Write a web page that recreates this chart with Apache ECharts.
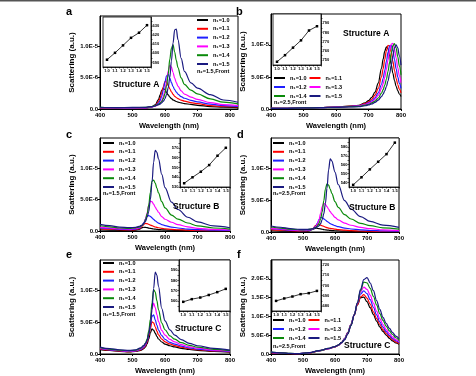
<!DOCTYPE html>
<html>
<head>
<meta charset="utf-8">
<title>Scattering spectra</title>
<script src="https://cdn.jsdelivr.net/npm/echarts@6/dist/echarts.min.js"></script>
<style>
html, body { margin: 0; padding: 0; background: #fff; }
#main { width: 476px; height: 376px; }
</style>
</head>
<body>
<div id="main"></div>
<script type="text/javascript">
// ---- data (scattering in units of 1e-6 a.u.) ----
var names = ['n\u2081=1.0', 'n\u2081=1.1', 'n\u2081=1.2', 'n\u2081=1.3', 'n\u2081=1.4', 'n\u2081=1.5'];

// a: structure A, n2=1.5
var aX = [400, 450, 500, 540, 560, 570, 580, 585, 590, 595, 600, 605, 610, 615, 620, 625, 630, 635, 640, 650, 660, 680, 700, 740, 780, 825];
var aCurves = [
  [0.17, 0.13, 0.12, 0.16, 0.36, 0.66, 1.49, 2.24, 2.97, 3.3, 3.07, 2.64, 2.24, 1.91, 1.65, 1.45, 1.32, 1.19, 1.1, 0.97, 0.87, 0.73, 0.59, 0.38, 0.29, 0.23],
  [0.19, 0.15, 0.13, 0.18, 0.33, 0.55, 1.14, 1.72, 2.6, 3.56, 4.35, 4.3, 3.74, 3.2, 2.73, 2.33, 2.02, 1.83, 1.65, 1.41, 1.25, 1.03, 0.84, 0.54, 0.4, 0.32],
  [0.2, 0.16, 0.15, 0.19, 0.34, 0.5, 0.9, 1.34, 2.02, 3.02, 4.31, 5.26, 5.55, 4.93, 4.2, 3.58, 3.08, 2.69, 2.38, 1.96, 1.71, 1.37, 1.12, 0.76, 0.53, 0.41],
  [0.22, 0.18, 0.17, 0.2, 0.32, 0.46, 0.7, 0.91, 1.33, 1.96, 2.94, 4.41, 6.02, 6.95, 6.65, 5.81, 4.9, 4.2, 3.64, 2.87, 2.38, 1.89, 1.54, 1.02, 0.7, 0.53],
  [0.25, 0.2, 0.21, 0.25, 0.39, 0.52, 0.72, 0.93, 1.18, 1.65, 2.47, 3.71, 5.56, 7.93, 9.68, 10.2, 9.06, 7.73, 6.59, 4.94, 3.91, 2.99, 2.42, 1.6, 1.08, 0.82],
  [0.28, 0.22, 0.26, 0.26, 0.39, 0.49, 0.68, 0.78, 0.98, 1.24, 1.63, 2.28, 3.38, 5.07, 7.67, 10.53, 12.6, 12.7, 11.05, 8.06, 5.98, 4.16, 3.32, 2.28, 1.43, 1.08]
];

// b: structure A, n2=2.5
var bX = [400, 450, 500, 550, 600, 640, 670, 690, 700, 710, 720, 730, 740, 745, 750, 755, 760, 765, 770, 775, 780, 785, 790, 795, 800];
var bCurves = [
  [0.09, 0.12, 0.17, 0.23, 0.31, 0.44, 0.58, 0.97, 1.3, 1.8, 2.64, 4.04, 6.34, 7.76, 9.02, 9.68, 9.39, 8.31, 6.9, 5.56, 4.43, 3.54, 2.86, 2.34, 1.94],
  [0.09, 0.12, 0.17, 0.23, 0.3, 0.41, 0.54, 0.85, 1.12, 1.52, 2.15, 3.21, 5.0, 6.26, 7.71, 9.08, 9.92, 9.82, 8.83, 7.41, 5.99, 4.78, 3.82, 3.08, 2.51],
  [0.09, 0.12, 0.17, 0.22, 0.29, 0.39, 0.48, 0.74, 0.95, 1.26, 1.74, 2.51, 3.82, 4.78, 5.99, 7.41, 8.83, 9.82, 9.92, 9.08, 7.71, 6.26, 5.0, 3.99, 3.21],
  [0.09, 0.12, 0.17, 0.22, 0.28, 0.38, 0.45, 0.68, 0.85, 1.12, 1.51, 2.14, 3.17, 3.93, 4.92, 6.17, 7.63, 9.09, 10.11, 10.22, 9.35, 7.94, 6.45, 5.15, 4.11],
  [0.09, 0.12, 0.16, 0.21, 0.27, 0.35, 0.4, 0.59, 0.73, 0.94, 1.24, 1.71, 2.46, 3.01, 3.72, 4.66, 5.84, 7.26, 8.74, 9.87, 10.18, 9.5, 8.16, 6.67, 5.33],
  [0.09, 0.11, 0.16, 0.2, 0.26, 0.32, 0.35, 0.51, 0.63, 0.79, 1.03, 1.38, 1.93, 2.32, 2.83, 3.5, 4.36, 5.48, 6.83, 8.29, 9.51, 10.0, 9.51, 8.29, 6.83]
];

// c: structure B, n2=1.5
var cX = [400, 430, 460, 490, 510, 520, 530, 535, 540, 545, 550, 555, 560, 565, 570, 575, 580, 590, 600, 620, 640, 670, 700, 750, 800];
var cCurves = [
  [0.2, 0.15, 0.11, 0.09, 0.14, 0.26, 0.53, 0.6, 0.58, 0.53, 0.47, 0.42, 0.37, 0.32, 0.29, 0.26, 0.23, 0.2, 0.17, 0.12, 0.1, 0.07, 0.05, 0.03, 0.02],
  [0.36, 0.28, 0.2, 0.16, 0.21, 0.34, 0.76, 1.05, 1.21, 1.16, 1.07, 0.95, 0.84, 0.74, 0.64, 0.58, 0.52, 0.43, 0.36, 0.26, 0.2, 0.13, 0.09, 0.06, 0.04],
  [0.51, 0.4, 0.28, 0.23, 0.3, 0.43, 0.88, 1.32, 1.91, 2.38, 2.45, 2.33, 2.08, 1.85, 1.63, 1.43, 1.25, 1.03, 0.85, 0.63, 0.48, 0.31, 0.21, 0.13, 0.09],
  [0.62, 0.48, 0.35, 0.3, 0.38, 0.51, 0.88, 1.2, 1.91, 2.88, 4.08, 4.75, 4.66, 4.27, 3.79, 3.36, 2.98, 2.3, 1.87, 1.39, 1.01, 0.67, 0.43, 0.25, 0.17],
  [0.84, 0.66, 0.48, 0.42, 0.5, 0.61, 0.9, 1.21, 1.77, 2.71, 4.18, 6.15, 7.95, 8.1, 7.63, 6.81, 6.07, 4.67, 3.69, 2.54, 1.89, 1.27, 0.82, 0.48, 0.31],
  [1.06, 0.84, 0.62, 0.53, 0.59, 0.73, 0.95, 1.22, 1.54, 2.19, 3.1, 5.03, 7.74, 10.97, 12.85, 12.51, 11.48, 9.03, 6.9, 4.58, 3.42, 2.19, 1.44, 0.8, 0.52]
];

// d: structure B, n2=2.5
var dX = [400, 430, 460, 490, 510, 520, 530, 540, 545, 550, 555, 560, 565, 570, 575, 580, 585, 590, 600, 610, 630, 650, 680, 710, 750, 800];
var dCurves = [
  [0.2, 0.15, 0.11, 0.09, 0.11, 0.19, 0.41, 0.6, 0.58, 0.53, 0.48, 0.43, 0.38, 0.34, 0.31, 0.28, 0.26, 0.23, 0.2, 0.17, 0.13, 0.11, 0.08, 0.06, 0.04, 0.03],
  [0.36, 0.28, 0.2, 0.15, 0.17, 0.25, 0.51, 1.04, 1.19, 1.17, 1.08, 0.98, 0.88, 0.78, 0.68, 0.62, 0.56, 0.52, 0.44, 0.38, 0.29, 0.22, 0.16, 0.12, 0.08, 0.06],
  [0.51, 0.39, 0.28, 0.21, 0.23, 0.28, 0.44, 0.93, 1.4, 1.96, 2.28, 2.24, 2.07, 1.89, 1.68, 1.5, 1.31, 1.2, 0.99, 0.84, 0.62, 0.47, 0.33, 0.24, 0.17, 0.12],
  [0.62, 0.48, 0.35, 0.27, 0.29, 0.35, 0.47, 0.85, 1.25, 1.89, 2.93, 4.0, 4.5, 4.37, 4.0, 3.6, 3.2, 2.84, 2.3, 1.91, 1.4, 1.06, 0.72, 0.52, 0.35, 0.24],
  [0.79, 0.61, 0.45, 0.34, 0.36, 0.4, 0.51, 0.73, 0.95, 1.37, 2.05, 3.19, 4.94, 6.76, 7.6, 7.37, 6.76, 6.08, 4.79, 3.88, 2.74, 2.05, 1.37, 0.99, 0.65, 0.44],
  [0.95, 0.75, 0.54, 0.4, 0.41, 0.44, 0.51, 0.69, 0.82, 0.98, 1.31, 1.96, 2.88, 4.49, 6.9, 9.78, 11.5, 11.21, 9.43, 7.48, 4.95, 3.62, 2.42, 1.67, 1.09, 0.72]
];

// e: structure C, n2=1.5
var eX = [400, 430, 460, 490, 510, 525, 535, 540, 545, 550, 555, 560, 565, 570, 575, 580, 590, 600, 615, 630, 650, 675, 700, 750, 800];
var eCurves = [
  [0.7, 0.55, 0.41, 0.33, 0.39, 0.56, 0.85, 1.12, 1.61, 2.37, 3.33, 3.95, 3.75, 3.28, 2.77, 2.36, 1.89, 1.57, 1.3, 1.11, 0.9, 0.71, 0.58, 0.4, 0.29],
  [0.77, 0.61, 0.46, 0.37, 0.44, 0.65, 0.97, 1.32, 1.87, 2.81, 4.03, 5.05, 4.89, 4.27, 3.6, 3.02, 2.35, 1.92, 1.58, 1.33, 1.07, 0.83, 0.67, 0.47, 0.33],
  [0.84, 0.66, 0.51, 0.41, 0.48, 0.72, 1.09, 1.44, 2.07, 3.12, 4.53, 5.95, 6.15, 5.37, 4.54, 3.77, 2.88, 2.31, 1.83, 1.57, 1.24, 0.96, 0.77, 0.53, 0.37],
  [0.91, 0.72, 0.55, 0.45, 0.54, 0.8, 1.2, 1.55, 2.16, 3.33, 4.98, 7.04, 8.0, 7.31, 6.21, 5.1, 3.72, 2.97, 2.29, 1.91, 1.47, 1.13, 0.92, 0.62, 0.45],
  [0.98, 0.77, 0.6, 0.5, 0.6, 0.88, 1.33, 1.67, 2.37, 3.59, 5.46, 8.06, 10.15, 9.75, 8.39, 6.96, 4.88, 3.82, 2.85, 2.33, 1.79, 1.36, 1.08, 0.73, 0.52],
  [1.09, 0.85, 0.67, 0.56, 0.66, 0.97, 1.36, 1.67, 2.1, 3.08, 4.55, 6.96, 10.31, 12.9, 12.42, 10.66, 7.16, 5.21, 3.79, 2.96, 2.26, 1.68, 1.3, 0.88, 0.62]
];

// f: structure C, n2=2.5
var fX = [400, 430, 460, 490, 520, 550, 580, 600, 610, 620, 630, 640, 650, 660, 670, 680, 690, 700, 710, 720, 730, 740, 750, 760, 770, 780, 790, 800];
var fCurves = [
  [0.32, 0.22, 0.11, 0.1, 0.3, 0.82, 1.4, 1.9, 2.3, 2.95, 4.1, 5.78, 7.98, 10.49, 13.07, 15.0, 15.1, 13.91, 12.31, 10.49, 8.74, 7.22, 6.0, 5.02, 4.18, 3.5, 2.96, 2.58],
  [0.38, 0.24, 0.12, 0.1, 0.31, 0.84, 1.42, 1.92, 2.32, 2.95, 4.03, 5.53, 7.74, 10.19, 13.11, 15.17, 15.8, 14.85, 13.27, 11.22, 9.48, 7.9, 6.48, 5.45, 4.58, 3.79, 3.24, 2.77],
  [0.42, 0.26, 0.13, 0.11, 0.32, 0.85, 1.43, 1.93, 2.33, 2.95, 4.03, 5.54, 7.81, 10.33, 13.44, 15.96, 16.8, 16.04, 14.45, 12.43, 10.42, 8.57, 7.14, 5.96, 4.96, 4.12, 3.53, 3.02],
  [0.45, 0.27, 0.13, 0.11, 0.33, 0.86, 1.45, 1.95, 2.35, 2.95, 3.92, 5.52, 7.83, 10.41, 13.53, 16.55, 17.8, 17.18, 15.66, 13.53, 11.39, 9.43, 7.83, 6.5, 5.43, 4.54, 3.83, 3.29],
  [0.48, 0.28, 0.14, 0.12, 0.34, 0.88, 1.48, 1.98, 2.38, 3.0, 3.84, 5.38, 7.68, 10.37, 13.63, 16.9, 19.1, 18.9, 17.47, 15.36, 13.06, 10.75, 8.93, 7.39, 6.14, 5.18, 4.32, 3.65],
  [0.5, 0.3, 0.15, 0.12, 0.35, 0.9, 1.5, 2.0, 2.4, 3.0, 3.76, 5.28, 7.51, 10.35, 13.6, 17.26, 19.8, 20.3, 18.88, 16.85, 14.21, 11.88, 9.74, 8.12, 6.8, 5.68, 4.77, 4.06]
];

// insets: peak wavelength (nm) vs n1
var insetN = [1.0, 1.1, 1.2, 1.3, 1.4, 1.5];
var aPeak = [593, 600.6, 608.8, 617.1, 622.7, 631];
var bPeak = [748.5, 755.6, 763.7, 771.6, 782.2, 786.8];
var cPeak = [533.8, 539.9, 545.6, 552.4, 561.9, 570];
var dPeak = [537.4, 545.9, 554.8, 563.3, 571.9, 584.8];
var ePeak = [559, 561.6, 563.2, 565.7, 568.5, 571.7];
var fPeak = [684.9, 687.3, 689.2, 691.5, 692.5, 694.7];

// ---- layout ----
var FONT = 'Liberation Sans, Arial, sans-serif';
var colors = ['#000000', '#ff0000', '#1f1fff', '#ff00ff', '#0a8a0a', '#1a1a80'];

var panels = [
  { x: aX, ys: aCurves, peaks: aPeak, grid: [100, 16, 138, 93], xMax: 825, yMax: 14.8,
    inset: [103, 17, 48, 50], inMin: 585, inMax: 640, inSide: 'right', inShowMin: false,
    legend: [197, 17, 1], front: [197, 71, 'n\u2082=1.5,Front'], struct: [113, 85, 'Structure A'], letter: [66, 12, 'a'] },
  { x: bX, ys: bCurves, peaks: bPeak, grid: [271, 14, 130, 95], xMax: 800, yMax: 14.8,
    inset: [273, 14, 48, 51], inMin: 745, inMax: 800, inSide: 'right', inShowMin: false,
    legend: [274, 75, 2], front: [274, 102, 'n\u2082=2.5,Front'], struct: [343, 34, 'Structure A'], letter: [236, 12, 'b'] },
  { x: cX, ys: cCurves, peaks: cPeak, grid: [100, 138, 130, 93], xMax: 800, yMax: 14.8,
    inset: [180, 138, 50, 49], inMin: 530, inMax: 580, inSide: 'left', inShowMin: true,
    legend: [103, 140, 1], front: [103, 193, 'n\u2082=1.5,Front'], struct: [173, 207, 'Structure B'], letter: [66, 135, 'c'] },
  { x: dX, ys: dCurves, peaks: dPeak, grid: [271, 138, 128, 94], xMax: 800, yMax: 14.8,
    inset: [349, 138, 50, 49], inMin: 535, inMax: 590, inSide: 'left', inShowMin: false,
    legend: [273, 140, 1], front: [273, 193, 'n\u2082=2.5,Front'], struct: [349, 208, 'Structure B'], letter: [237, 135, 'd'] },
  { x: eX, ys: eCurves, peaks: ePeak, grid: [100, 260, 130, 94], xMax: 800, yMax: 14.8,
    inset: [179, 260, 51, 51], inMin: 550, inMax: 600, inSide: 'left', inShowMin: false,
    legend: [103, 260, 1], front: [103, 314, 'n\u2082=1.5,Front'], struct: [175, 329, 'Structure C'], letter: [66, 255, 'e'] },
  { x: fX, ys: fCurves, peaks: fPeak, grid: [271, 260, 128, 94], xMax: 800, yMax: 25,
    inset: [272, 260, 49, 51], inMin: 675, inMax: 725, inSide: 'right', inShowMin: false,
    legend: [273, 317, 2], front: [273, 346, 'n\u2082=2.5,Front'], struct: [344, 346, 'Structure C'], letter: [237, 255, 'f'] }
];

function pairs(xs, ys) {
  return xs.map(function (x, i) { return [x, ys[i]]; });
}
function sciLabel(v) {
  var map = { 0: '0.0', 5: '5.0E-6', 10: '1.0E-5', 15: '1.5E-5', 20: '2.0E-5' };
  return map[v] !== undefined ? map[v] : '';
}
function nLabel(v) {
  var r = Math.round(v * 100);
  return (r % 10 === 0 && r >= 100 && r <= 150) ? (r / 100).toFixed(1) : '';
}
function nmLabel(v) {
  var r = Math.round(v);
  return r % 10 === 0 ? String(r) : '';
}

var grids = [], xAxes = [], yAxes = [], series = [], legends = [], graphics = [];
var bold = { fontFamily: FONT, fontWeight: 'bold', color: '#000' };

panels.forEach(function (p) {
  var gi = grids.length;
  grids.push({ left: p.grid[0], top: p.grid[1], width: p.grid[2], height: p.grid[3],
    show: true, borderColor: '#000', borderWidth: 1 });
  xAxes.push({
    gridIndex: gi, type: 'value', min: 400, max: p.xMax, interval: 100,
    name: 'Wavelength (nm)', nameLocation: 'middle', nameGap: 13,
    nameTextStyle: Object.assign({ fontSize: 7.5 }, bold),
    axisLine: { onZero: false, lineStyle: { color: '#000', width: 1 } },
    axisTick: { length: 2, lineStyle: { color: '#000' } },
    axisLabel: Object.assign({ fontSize: 6, margin: 3, showMaxLabel: p.xMax === 800 }, bold),
    splitLine: { show: false }
  });
  yAxes.push({
    gridIndex: gi, type: 'value', min: 0, max: p.yMax, interval: 5,
    name: 'Scattering (a.u.)', nameLocation: 'middle', nameGap: 24,
    nameTextStyle: Object.assign({ fontSize: 8 }, bold),
    axisLine: { lineStyle: { color: '#000', width: 1 } },
    axisTick: { length: 2, lineStyle: { color: '#000' } },
    axisLabel: Object.assign({ fontSize: 6, margin: 2, formatter: sciLabel, showMaxLabel: false }, bold),
    splitLine: { show: false }
  });
  p.ys.forEach(function (ys, j) {
    series.push({
      name: names[j], type: 'line', xAxisIndex: gi, yAxisIndex: gi,
      data: pairs(p.x, ys), symbol: 'none', smooth: 0.35, smoothMonotone: 'x',
      lineStyle: { color: colors[j], width: 1.2 }, itemStyle: { color: colors[j] }, z: 2 + j * 0.01
    });
  });

  // inset: peak position vs n1
  var ii = grids.length;
  grids.push({ left: p.inset[0], top: p.inset[1], width: p.inset[2], height: p.inset[3],
    show: true, borderColor: '#000', borderWidth: 0.8, backgroundColor: '#fff', z: 3 });
  xAxes.push({
    gridIndex: ii, type: 'value', min: 0.95, max: 1.55, interval: 0.05,
    axisLine: { onZero: false, lineStyle: { color: '#000', width: 0.8 } },
    axisTick: { length: 1.5, lineStyle: { color: '#000', width: 0.6 } },
    axisLabel: Object.assign({ fontSize: 4, margin: 1.5, formatter: nLabel }, bold),
    splitLine: { show: false }, z: 4
  });
  yAxes.push({
    gridIndex: ii, type: 'value', min: p.inMin, max: p.inMax, interval: 5, position: p.inSide,
    axisLine: { onZero: false, lineStyle: { color: '#000', width: 0.8 } },
    axisTick: { length: 1.5, lineStyle: { color: '#000', width: 0.6 } },
    axisLabel: Object.assign({ fontSize: 4, margin: 1.5, formatter: nmLabel,
      showMaxLabel: false, showMinLabel: p.inShowMin }, bold),
    splitLine: { show: false }, z: 4
  });
  series.push({
    name: 'peak', type: 'line', xAxisIndex: ii, yAxisIndex: ii,
    data: pairs(insetN, p.peaks), symbol: 'rect', symbolSize: 2.5,
    lineStyle: { color: '#000', width: 0.8 }, itemStyle: { color: '#000' }, z: 5
  });

  var two = p.legend[2] === 2;
  legends.push({
    data: names, left: p.legend[0], top: p.legend[1], padding: 0,
    orient: two ? 'horizontal' : 'vertical', width: two ? 76 : 'auto',
    icon: 'rect', itemWidth: 11, itemHeight: 2, itemGap: two ? 3 : 2.8, selectedMode: false,
    textStyle: Object.assign({ fontSize: 5.5, lineHeight: 5.5 }, bold)
  });

  graphics.push({ type: 'text', x: p.front[0], y: p.front[1], z: 20,
    style: { text: p.front[2], fontSize: 5.5, fontWeight: 'bold', fontFamily: FONT, fill: '#000', verticalAlign: 'middle' } });
  graphics.push({ type: 'text', x: p.struct[0], y: p.struct[1], z: 20,
    style: { text: p.struct[2], fontSize: 8.5, fontWeight: 'bold', fontFamily: FONT, fill: '#000', verticalAlign: 'middle' } });
  graphics.push({ type: 'text', x: p.letter[0], y: p.letter[1], z: 20,
    style: { text: p.letter[2], fontSize: 11, fontWeight: 'bold', fontFamily: FONT, fill: '#000', verticalAlign: 'middle' } });
});

graphics.push({ type: 'rect', shape: { x: 0, y: 0, width: 476, height: 1.5 }, style: { fill: '#555' }, z: 20 });

var chart = echarts.init(document.getElementById('main'), null, { renderer: 'canvas' });
chart.setOption({
  animation: false,
  backgroundColor: '#fff',
  grid: grids,
  xAxis: xAxes,
  yAxis: yAxes,
  legend: legends,
  series: series,
  graphic: graphics
});
</script>
</body>
</html>
